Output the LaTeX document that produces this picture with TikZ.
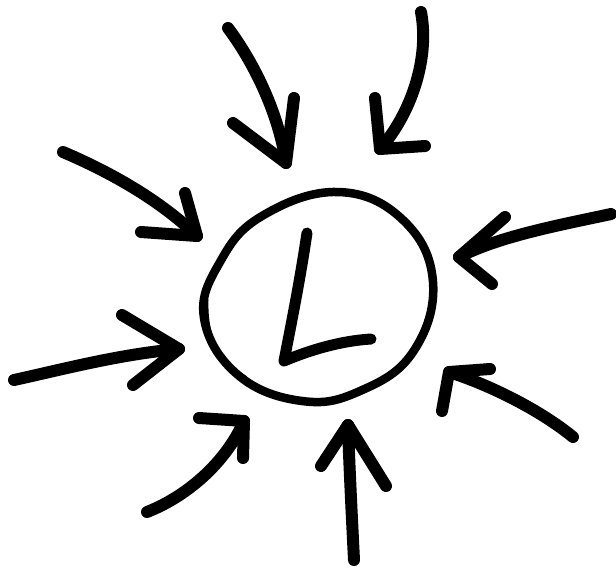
\documentclass[tikz,border=0pt]{standalone}
\begin{document}
\begin{tikzpicture}[x=1pt,y=-1pt,
  ink/.style={line width=12pt,line cap=round,line join=round,black},
  rim/.style={line width=8.5pt,line cap=round,line join=round,black},
  letter/.style={line width=11pt,line cap=round,line join=round,black}]
\useasboundingbox (0,0) rectangle (616,571);
% circle
\draw[rim] plot[smooth cycle,tension=0.7] coordinates {(204,318) (220,262) (262,216) (338,192) (403,220) (433,282) (413,352) (360,391) (302,401) (238,375)};
\draw[line width=5pt,line cap=round] (206,300) .. controls (205,335) and (215,360) .. (245,378);
% letter L
\coordinate (Ltop) at (307,233);
\coordinate (Lcorner) at (284,361);
\coordinate (Lend) at (371,339);
\draw[letter] (Ltop) .. controls (300,280) and (292,320) .. (Lcorner) .. controls (310,350) and (340,341) .. (Lend);
% arrow 1
\coordinate (t1) at (286,163);
\draw[ink] (228,28) .. controls (252,60) and (278,110) .. (t1);
\draw[ink] (233,123) -- (t1) -- (294,98);
% arrow 2
\coordinate (t2) at (380,149);
\draw[ink] (421,12) .. controls (430,60) and (410,115) .. (t2);
\draw[ink] (375,98) -- (t2) -- (425,146);
% arrow 3
\coordinate (t3) at (197,236);
\draw[ink] (63,152) .. controls (110,172) and (160,200) .. (t3);
\draw[ink] (185,193) -- (t3) -- (141,232);
% arrow 4
\coordinate (t4) at (459,257);
\draw[ink] (611,214) .. controls (560,225) and (500,236) .. (t4);
\draw[ink] (505,217) -- (t4) -- (492,284);
% arrow 5
\coordinate (t5) at (179,349);
\draw[ink] (14,380) .. controls (60,370) and (120,354) .. (t5);
\draw[ink] (122,315) -- (t5) -- (133,385);
% arrow 6
\coordinate (t6) at (244,421);
\draw[ink] (147,512) .. controls (190,495) and (227,460) .. (t6);
\draw[ink] (199,418) -- (t6) -- (243,458);
% arrow 7
\coordinate (t7) at (348,425);
\draw[ink] (354,560) .. controls (352,520) and (349,460) .. (t7);
\draw[ink] (321,466) -- (t7) -- (386,486);
% arrow 8
\coordinate (t8) at (449,372);
\draw[ink] (573,437) .. controls (540,410) and (490,385) .. (t8);
\draw[ink] (490,369) -- (t8) -- (442,411);
\end{tikzpicture}
\end{document}
